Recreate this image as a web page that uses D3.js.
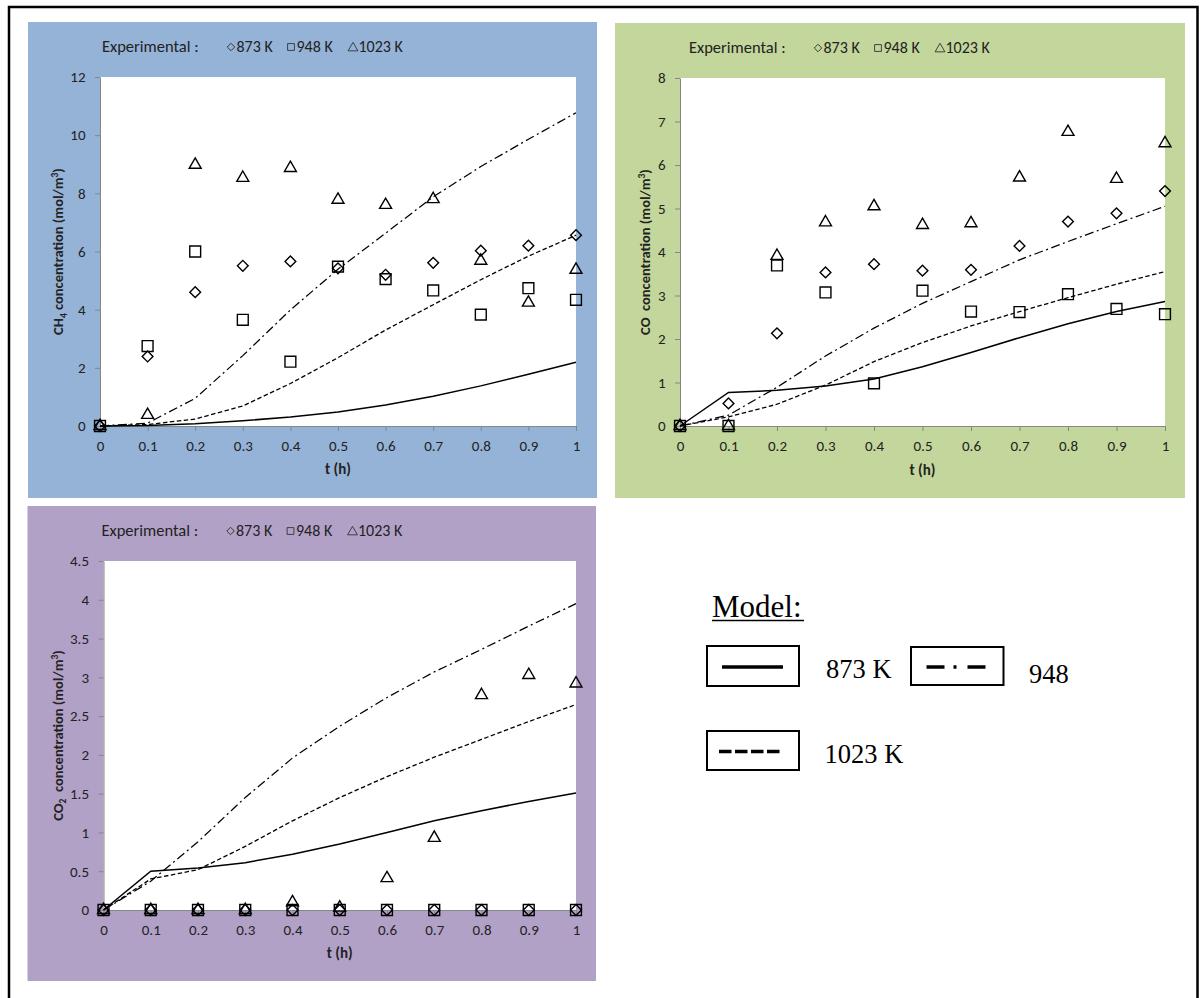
<!DOCTYPE html>
<html>
<head>
<meta charset="utf-8">
<script src="https://cdn.jsdelivr.net/npm/d3@7"></script>
<style>
  body { margin: 0; background: #fff; }
  svg text { font-family: Carlito, Lato, sans-serif; fill: #222; }
  .serif { font-family: "Liberation Serif", "Times New Roman", serif !important; fill: #000 !important; }
</style>
</head>
<body>
<svg width="1202" height="998"></svg>
<script>
// sampling times (h)
const hours = [0, 0.1, 0.2, 0.3, 0.4, 0.5, 0.6, 0.7, 0.8, 0.9, 1];
const temps = ['873 K', '948 K', '1023 K'];

// CH4 (mol/m3) - experimental points
const ch4Exp873  = [0, 2.39, 4.6, 5.51, 5.66, 5.42, 5.2, 5.61, 6.03, 6.2, 6.56];
const ch4Exp948  = [0, 2.75, 6.0, 3.65, 2.21, 5.48, 5.05, 4.66, 3.83, 4.74, 4.34];
const ch4Exp1023 = [0, 0.38, 8.98, 8.53, 8.87, 7.78, 7.6, 7.8, 5.68, 4.24, 5.37];
// CH4 - model
const ch4Mod873  = [0, 0.02, 0.08, 0.18, 0.31, 0.48, 0.72, 1.02, 1.38, 1.78, 2.19];
const ch4Mod948  = [0, 0.1, 0.95, 2.42, 3.99, 5.39, 6.63, 7.88, 8.92, 9.86, 10.77];
const ch4Mod1023 = [0, 0.05, 0.24, 0.69, 1.46, 2.35, 3.3, 4.17, 5.03, 5.84, 6.56];

// CO
const coExp873  = [0, 0.52, 2.13, 3.53, 3.72, 3.57, 3.59, 4.14, 4.7, 4.89, 5.4];
const coExp948  = [0, 0, 3.69, 3.07, 0.98, 3.11, 2.63, 2.62, 3.03, 2.69, 2.57];
const coExp1023 = [0, 0, 3.91, 4.68, 5.05, 4.62, 4.66, 5.71, 6.76, 5.68, 6.5];
const coMod873  = [0, 0.77, 0.82, 0.92, 1.08, 1.36, 1.69, 2.03, 2.35, 2.63, 2.86];
const coMod948  = [0, 0.25, 0.89, 1.61, 2.25, 2.82, 3.32, 3.82, 4.24, 4.65, 5.05];
const coMod1023 = [0, 0.21, 0.5, 0.94, 1.48, 1.92, 2.3, 2.63, 2.95, 3.26, 3.55];

// CO2
const co2Exp873  = [0, 0, 0, 0, 0, 0, 0, 0, 0, 0, 0];
const co2Exp948  = [0, 0, 0, 0, 0, 0, 0, 0, 0, 0, 0];
const co2Exp1023 = [0, 0, 0, 0, 0.1, 0.03, 0.41, 0.93, 2.77, 3.03, 2.92];
const co2Mod873  = [0, 0.5, 0.54, 0.61, 0.72, 0.85, 1.0, 1.15, 1.28, 1.4, 1.51];
const co2Mod948  = [0, 0.37, 0.88, 1.45, 1.96, 2.37, 2.74, 3.07, 3.36, 3.66, 3.95];
const co2Mod1023 = [0, 0.4, 0.52, 0.82, 1.15, 1.45, 1.72, 1.97, 2.2, 2.43, 2.65];

const ch4Ticks = [0, 2, 4, 6, 8, 10, 12];
const coTicks  = [0, 1, 2, 3, 4, 5, 6, 7, 8];
const co2Ticks = [0, 0.5, 1, 1.5, 2, 2.5, 3, 3.5, 4, 4.5];

// marker per temperature, dash per model temperature (legend: solid 873, dash-dot 948, dashed 1023)
const markerShapes = ['diamond', 'square', 'triangle'];
const lineDash = [null, '9,3.5,2,3.5', '4.5,2.5'];
const lineWidth = [1.5, 1.25, 1.3];

const panels = [
  { bg: '#95B3D7', box: [28, 22, 569, 476], plot: [100, 77, 576, 426], ticks: ch4Ticks,
    species: ['CH', '4', ' concentration (mol/m'],
    exp: [ch4Exp873, ch4Exp948, ch4Exp1023], model: [ch4Mod873, ch4Mod948, ch4Mod1023] },
  { bg: '#C3D69B', box: [615, 23, 570, 475], plot: [680, 78, 1165, 426], ticks: coTicks,
    species: ['CO', null, '  concentration (mol/m'],
    exp: [coExp873, coExp948, coExp1023], model: [coMod873, coMod948, coMod1023] },
  { bg: '#B2A1C7', box: [27.5, 506, 568.5, 475], plot: [103.5, 561, 576, 910], ticks: co2Ticks,
    species: ['CO', '2', '  concentration (mol/m'],
    exp: [co2Exp873, co2Exp948, co2Exp1023], model: [co2Mod873, co2Mod948, co2Mod1023] },
];

const svg = d3.select('svg');

// outer frame
svg.append('rect').attr('x', 9).attr('y', 7).attr('width', 1188.5).attr('height', 1000)
  .attr('fill', 'none').attr('stroke', '#000').attr('stroke-width', 2.5);

function markerPath(shape, big) {
  if (shape === 'square') return d3.symbol(d3.symbolSquare, big ? 118 : 46)();
  if (shape === 'triangle') return d3.symbol(d3.symbolTriangle, big ? 62 : 42)();
  return d3.symbol(d3.symbolSquare, big ? 58 : 28)(); // rotated later -> diamond
}

panels.forEach(function(p) {
  const [bx, by, bw, bh] = p.box;
  const [x0, y0, x1, y1] = p.plot;
  const g = svg.append('g');

  g.append('rect').attr('x', bx).attr('y', by).attr('width', bw).attr('height', bh).attr('fill', p.bg);
  g.append('rect').attr('x', x0).attr('y', y0).attr('width', x1 - x0).attr('height', y1 - y0).attr('fill', '#fff');

  const x = d3.scaleLinear().domain([0, 1]).range([x0, x1]);
  const y = d3.scaleLinear().domain([0, d3.max(p.ticks)]).range([y1, y0]);

  // axes
  const xAxis = g.append('g').attr('transform', 'translate(0,' + y1 + ')')
    .call(d3.axisBottom(x).tickValues(hours).tickSize(5).tickSizeOuter(0).tickPadding(9).tickFormat(String));
  const yAxis = g.append('g').attr('transform', 'translate(' + x0 + ',0)')
    .call(d3.axisLeft(y).tickValues(p.ticks).tickSize(5).tickSizeOuter(0).tickPadding(9.5).tickFormat(String));
  [xAxis, yAxis].forEach(function(a) {
    a.attr('font-size', 15).attr('font-family', null);
    a.selectAll('path, line').attr('stroke', '#868686');
    a.selectAll('text').attr('fill', '#262626');
  });

  // axis titles
  g.append('text').attr('x', (x0 + x1) / 2).attr('y', by + 452).attr('text-anchor', 'middle')
    .attr('font-size', 15).attr('font-weight', 'bold').text('t (h)');

  const yt = g.append('text').attr('text-anchor', 'middle').attr('font-size', 14.5).attr('font-weight', 'bold')
    .attr('transform', 'translate(' + (bx + 35) + ',' + (y0 + y1) / 2 + ') rotate(-90)')
    .style('white-space', 'pre');
  yt.append('tspan').text(p.species[0]);
  if (p.species[1]) yt.append('tspan').attr('font-size', 9.5).attr('dy', 3.5).text(p.species[1]);
  yt.append('tspan').attr('dy', p.species[1] ? -3.5 : 0).text(p.species[2]);
  yt.append('tspan').attr('font-size', 9.5).attr('dy', -5).text('3');
  yt.append('tspan').attr('dy', 5).text(')');

  // model lines
  const line = d3.line().x(function(d, i) { return x(hours[i]); }).y(function(d) { return y(d); });
  p.model.forEach(function(series, k) {
    g.append('path').datum(series).attr('d', line)
      .attr('fill', 'none').attr('stroke', '#000').attr('stroke-width', lineWidth[k])
      .attr('stroke-dasharray', lineDash[k]);
  });

  // experimental markers
  p.exp.forEach(function(series, k) {
    const shape = markerShapes[k];
    g.append('g').selectAll('path').data(series).join('path')
      .attr('d', markerPath(shape, true))
      .attr('transform', function(d, i) {
        return 'translate(' + x(hours[i]) + ',' + y(d) + ')' + (shape === 'diamond' ? ' rotate(45)' : '');
      })
      .attr('fill', 'none').attr('stroke', '#000').attr('stroke-width', 1.4);
  });

  // experimental legend
  const leg = g.append('g').attr('transform', 'translate(' + bx + ',' + by + ')');
  leg.append('text').attr('x', 74).attr('y', 30).attr('font-size', 16.5).text('Experimental :');
  const legX = [203, 263, 325];
  temps.forEach(function(t, k) {
    const shape = markerShapes[k];
    leg.append('path').attr('d', markerPath(shape, false))
      .attr('transform', 'translate(' + legX[k] + ',' + (shape === 'triangle' ? 26 : 25) + ')' + (shape === 'diamond' ? ' rotate(45)' : ''))
      .attr('fill', 'none').attr('stroke', '#333').attr('stroke-width', 0.9);
    leg.append('text').attr('x', legX[k] + 5.5).attr('y', 30).attr('font-size', 16).text(t);
  });
});

// model legend (bottom right)
const ml = svg.append('g');
ml.append('text').attr('class', 'serif').attr('x', 712).attr('y', 617).attr('font-size', 31).text('Model:');
ml.append('line').attr('x1', 712).attr('x2', 804).attr('y1', 620.5).attr('y2', 620.5)
  .attr('stroke', '#000').attr('stroke-width', 1.5);

const modelKeys = [
  { box: [707, 646, 92, 40], label: '873 K', tx: 826, ty: 678, dash: null, lx: [15, 76] },
  { box: [911, 647, 92.5, 38], label: '948', tx: 1029, ty: 683, dash: '18,9,3,11', lx: [15.5, 76] },
  { box: [707, 731, 92, 39], label: '1023 K', tx: 824.5, ty: 763, dash: '12.5,3.5', lx: [12, 73] },
];
modelKeys.forEach(function(m) {
  const [bx, by, bw, bh] = m.box;
  ml.append('rect').attr('x', bx).attr('y', by).attr('width', bw).attr('height', bh)
    .attr('fill', '#fff').attr('stroke', '#000').attr('stroke-width', 2);
  ml.append('line').attr('x1', bx + m.lx[0]).attr('x2', bx + m.lx[1])
    .attr('y1', by + bh / 2 + 1).attr('y2', by + bh / 2 + 1)
    .attr('stroke', '#000').attr('stroke-width', 3.5).attr('stroke-dasharray', m.dash);
  ml.append('text').attr('class', 'serif').attr('x', m.tx).attr('y', m.ty).attr('font-size', 26.5).text(m.label);
});
</script>
</body>
</html>
